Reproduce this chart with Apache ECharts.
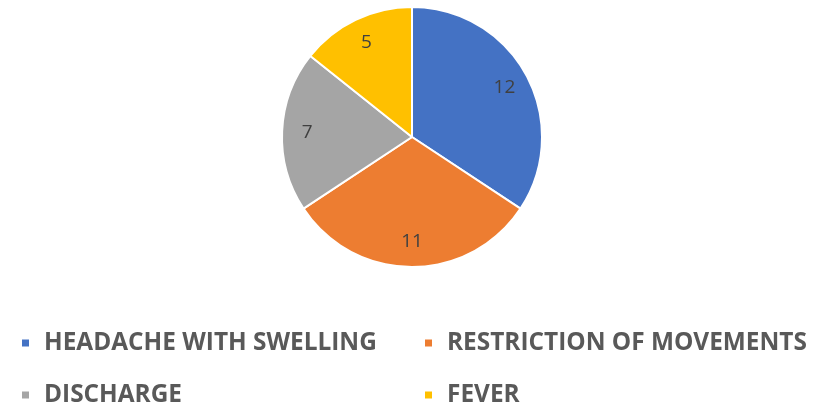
<!DOCTYPE html>
<html><head><meta charset="utf-8">
<script src="https://cdn.jsdelivr.net/npm/echarts@6/dist/echarts.min.js"></script>
<style>html,body{margin:0;padding:0;background:#fff}#c{width:817px;height:408px}</style>
</head><body><div id="c"></div>
<script>
const categories = ["HEADACHE WITH SWELLING", "RESTRICTION OF MOVEMENTS", "DISCHARGE", "FEVER"];
const values = [12, 11, 7, 5];
const colors = ["#4472C4", "#ED7D31", "#A5A5A5", "#FFC000"];

const data = categories.map((n, i) => ({ name: n, value: values[i], itemStyle: { color: colors[i] } }));
const chart = echarts.init(document.getElementById('c'), null, { renderer: 'canvas' });
const legendText = { color: '#595959', fontSize: 24.4, lineHeight: 26, fontWeight: 'bold', fontFamily: 'Open Sans', padding: [0, 0, 0, 9] };
const legendPos = [[20, 330], [423, 330], [20, 382], [423, 382]];
chart.setOption({
  animation: false,
  legend: categories.map((c, i) => ({
    data: [c], left: legendPos[i][0], top: legendPos[i][1], padding: 0,
    icon: 'rect', itemWidth: 9, itemHeight: 9, textStyle: legendText, selectedMode: false
  })),
  series: [
    {
      type: 'pie', center: [412, 137], radius: [0, 130], startAngle: 90, clockwise: true,
      data: data, label: { show: false }, labelLine: { show: false },
      itemStyle: { borderColor: '#fff', borderWidth: 2 }, silent: true
    },
    {
      type: 'pie', center: [412, 137], radius: [74, 130], startAngle: 90, clockwise: true,
      data: data.map(d => ({ name: d.name, value: d.value, itemStyle: { color: 'rgba(0,0,0,0)' } })),
      silent: true, legendHoverLink: false,
      label: { show: true, position: 'inside', formatter: '{c}', color: '#404040', fontSize: 19, fontFamily: 'Open Sans' },
      labelLine: { show: false }
    }
  ]
});
</script></body></html>
